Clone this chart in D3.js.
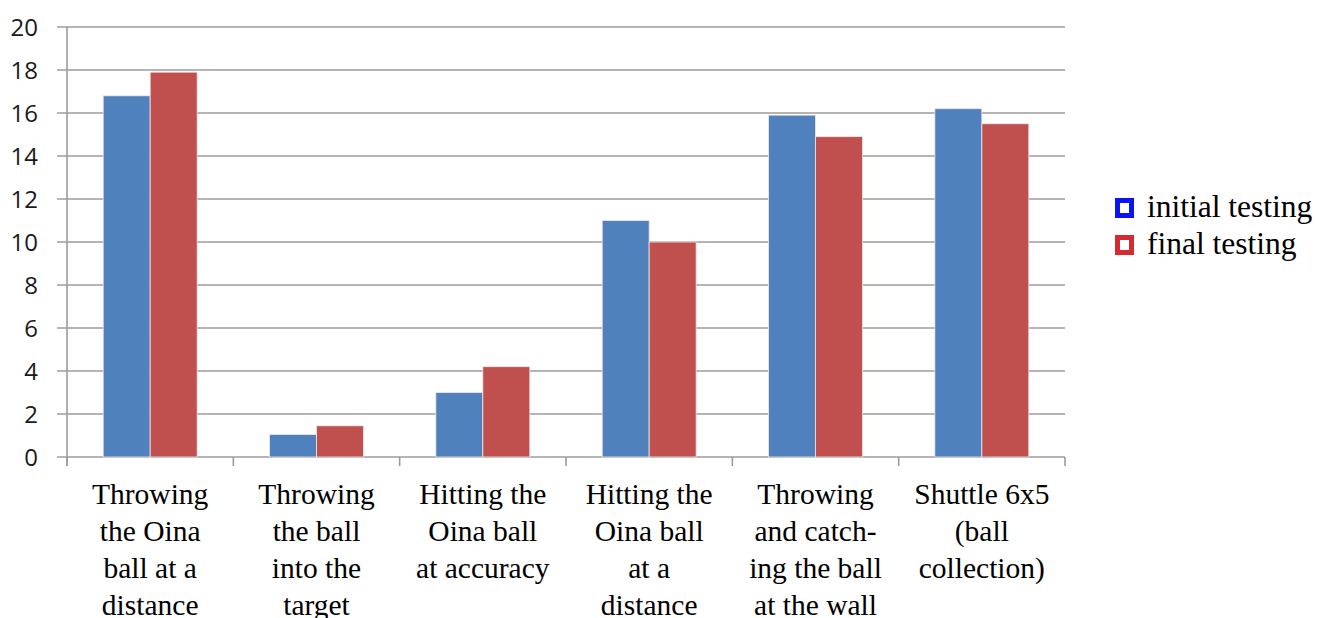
<!DOCTYPE html>
<html>
<head>
<meta charset="utf-8">
<script src="https://cdn.jsdelivr.net/npm/d3@7"></script>
<style>
  html, body { margin: 0; padding: 0; background: #fff; }
  svg { display: block; }
</style>
</head>
<body>
<svg id="chart" width="1317" height="618"></svg>
<script>
// Test exercises (each label split into its printed lines)
const categories = [
  ["Throwing", "the Oina", "ball at a", "distance"],
  ["Throwing", "the ball", "into the", "target"],
  ["Hitting the", "Oina ball", "at accuracy"],
  ["Hitting the", "Oina ball", "at a", "distance"],
  ["Throwing", "and catch-", "ing the ball", "at the wall"],
  ["Shuttle 6x5", "(ball", "collection)"]
];
const seriesNames = ["initial testing", "final testing"];
const initialValues = [16.8, 1.05, 3.0, 11.0, 15.9, 16.2];
const finalValues = [17.9, 1.45, 4.2, 10.0, 14.9, 15.5];
const yTicks = [0, 2, 4, 6, 8, 10, 12, 14, 16, 18, 20];

const barColors = ["#4F81BD", "#C0504D"];
const legendColors = ["#0A14F0", "#D42A30"];

const svg = d3.select("#chart");
const plot = { left: 67, right: 1065, top: 27, bottom: 457 };

const x = d3.scaleBand()
  .domain(d3.range(categories.length))
  .range([plot.left, plot.right])
  .paddingInner(0)
  .paddingOuter(0);

const inner = d3.scaleBand()
  .domain(d3.range(seriesNames.length))
  .range([0, x.bandwidth()])
  .paddingInner(0)
  .paddingOuter(0.77);

const y = d3.scaleLinear().domain([0, 20]).range([plot.bottom, plot.top]);

// Horizontal gridlines with short outer tick stubs
svg.append("g")
  .selectAll("line")
  .data(yTicks)
  .join("line")
  .attr("x1", plot.left - 10)
  .attr("x2", plot.right)
  .attr("y1", d => y(d))
  .attr("y2", d => y(d))
  .attr("stroke", "#9c9c9c")
  .attr("stroke-width", 1.6);

// Y axis labels
const yAxis = d3.axisLeft(y).tickValues(yTicks).tickSize(0).tickPadding(0);
const yg = svg.append("g").attr("transform", `translate(38,0)`).call(yAxis);
yg.select(".domain").remove();
yg.selectAll("text")
  .attr("font-family", "'Open Sans', 'Liberation Sans', sans-serif")
  .attr("font-size", 24)
  .attr("fill", "#1a1a1a")
  .attr("dy", "0.35em");

// Vertical axis line
svg.append("line")
  .attr("x1", plot.left).attr("x2", plot.left)
  .attr("y1", plot.top).attr("y2", plot.bottom + 9)
  .attr("stroke", "#9c9c9c").attr("stroke-width", 1.6);

// Bars
const data = categories.map((c, i) => [initialValues[i], finalValues[i]]);
const groups = svg.append("g")
  .selectAll("g")
  .data(data)
  .join("g")
  .attr("transform", (d, i) => `translate(${x(i)},0)`);

groups.selectAll("rect")
  .data(d => d)
  .join("rect")
  .attr("x", (d, j) => inner(j))
  .attr("width", inner.bandwidth())
  .attr("y", d => y(d))
  .attr("height", d => y(0) - y(d))
  .attr("fill", (d, j) => barColors[j])
  .attr("stroke", "#f3e8e8")
  .attr("stroke-width", 0.8);

// Category separators on the baseline
const sepTicks = d3.range(categories.length + 1).map(i =>
  i < categories.length ? x(i) : x(categories.length - 1) + x.bandwidth());
svg.append("g")
  .selectAll("line")
  .data(sepTicks)
  .join("line")
  .attr("x1", d => d).attr("x2", d => d)
  .attr("y1", plot.bottom).attr("y2", plot.bottom + 9)
  .attr("stroke", "#9c9c9c").attr("stroke-width", 1.6);

// Category labels
const labels = svg.append("g")
  .selectAll("text")
  .data(categories)
  .join("text")
  .attr("x", (d, i) => x(i) + x.bandwidth() / 2)
  .attr("y", 504)
  .attr("text-anchor", "middle")
  .attr("font-family", "'Liberation Serif', 'Times New Roman', serif")
  .attr("font-size", 29.5)
  .attr("fill", "#000");
labels.selectAll("tspan")
  .data(d => d)
  .join("tspan")
  .attr("x", function () { return d3.select(this.parentNode).attr("x"); })
  .attr("dy", (d, k) => k === 0 ? 0 : 37)
  .text(d => d);

// Legend
const legend = svg.append("g").attr("transform", "translate(1115,198)");
const items = legend.selectAll("g")
  .data(seriesNames)
  .join("g")
  .attr("transform", (d, i) => `translate(0,${i * 37})`);
items.append("rect")
  .attr("x", 2.5).attr("y", 2.5)
  .attr("width", 14).attr("height", 15)
  .attr("fill", "#fff")
  .attr("stroke", (d, i) => legendColors[i])
  .attr("stroke-width", 5);
items.append("text")
  .attr("x", 32)
  .attr("y", 19)
  .attr("font-family", "'Liberation Serif', 'Times New Roman', serif")
  .attr("font-size", 31.5)
  .attr("fill", "#000")
  .text(d => d);
</script>
</body>
</html>
